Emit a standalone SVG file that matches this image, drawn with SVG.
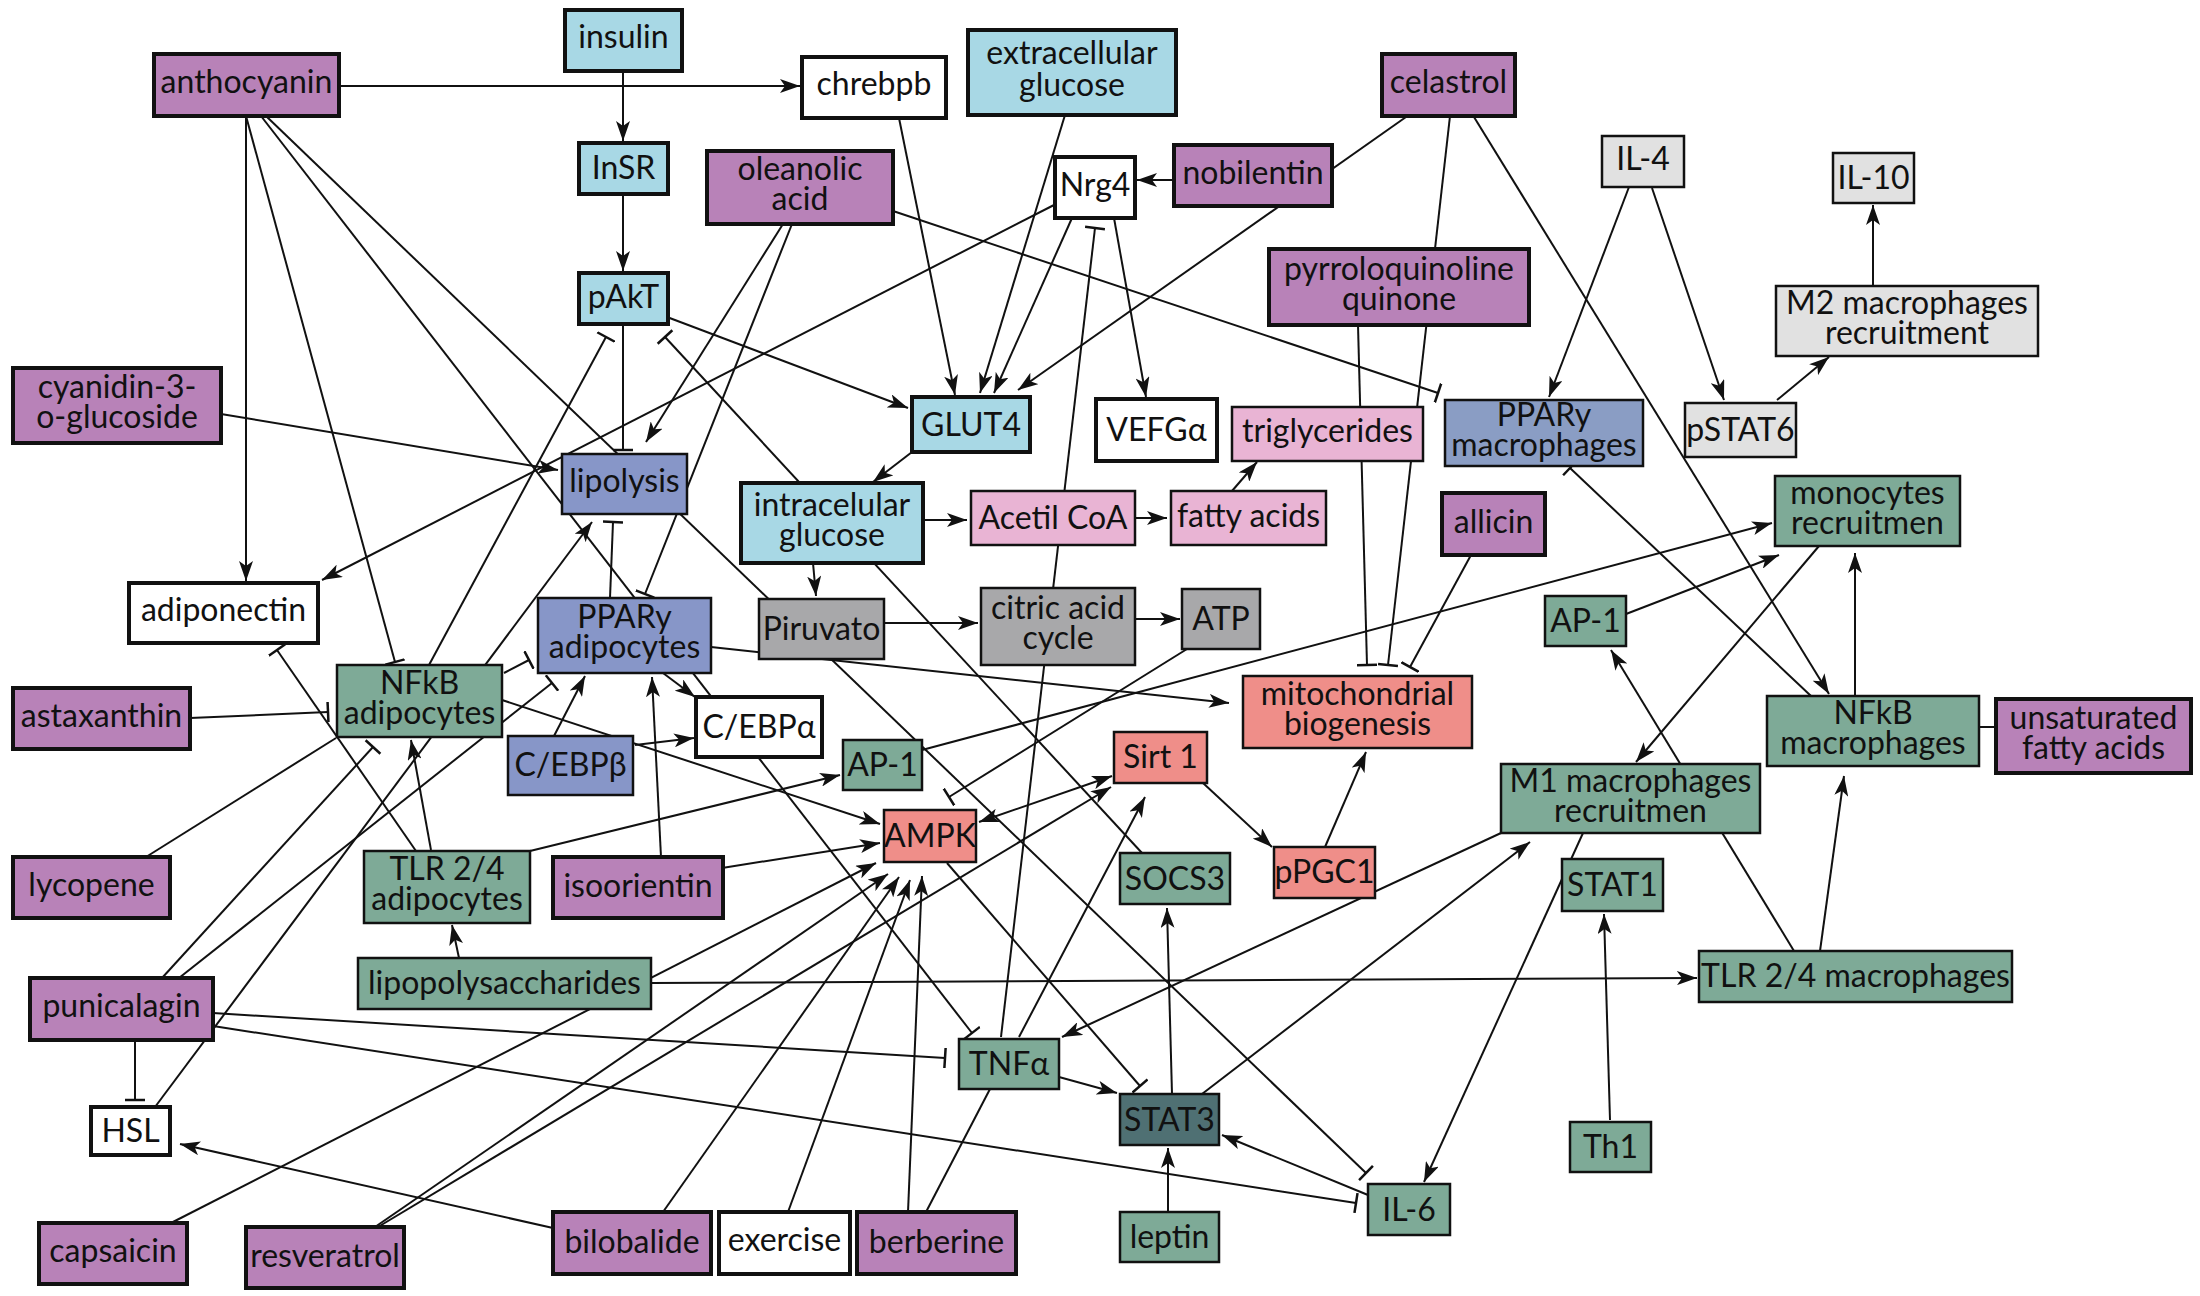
<svg xmlns="http://www.w3.org/2000/svg" width="2200" height="1296" viewBox="0 0 2200 1296">
<defs>
<style>
.e line{stroke:#111;stroke-width:2;fill:none}
.a{marker-end:url(#arr)}
.t{marker-end:url(#tee)}
.d{marker-start:url(#arr);marker-end:url(#arr)}
.pur,.blu,.wht,.sbl,.sbm,.pnk,.gry,.sal,.grn,.dgr,.lgr{stroke:#111}
.pur{fill:#b882b8;stroke-width:4}
.blu{fill:#a8d8e5;stroke-width:4}
.wht{fill:#fff;stroke-width:4}
.sbl{fill:#8796c8;stroke-width:2.5}
.sbm{fill:#8a9dc4;stroke-width:2.5}
.pnk{fill:#e9b4d4;stroke-width:2.5}
.gry{fill:#a8a8aa;stroke-width:2.5}
.sal{fill:#ef8e89;stroke-width:2.5}
.grn{fill:#7eaa97;stroke-width:2.5}
.dgr{fill:#4f7073;stroke-width:2.5}
.lgr{fill:#e1e1e1;stroke-width:2.5}
text{font-family:Lato,"Open Sans","Liberation Sans",sans-serif;font-size:32px;fill:#111;text-anchor:middle}
</style>
<marker id="arr" viewBox="0 0 20 14" refX="20" refY="7" markerWidth="20" markerHeight="14" orient="auto-start-reverse" markerUnits="userSpaceOnUse"><path d="M0,0 L20,7 L0,14 L5,7 z" fill="#111"/></marker>
<marker id="tee" viewBox="0 0 4 20" refX="2" refY="10" markerWidth="4" markerHeight="20" orient="auto" markerUnits="userSpaceOnUse"><path d="M2,0 V20" stroke="#111" stroke-width="2.5"/></marker>
</defs>
<g id="connectors" class="e">
<line class="a" x1="339" y1="86" x2="800" y2="86"/>
<line class="a" x1="623" y1="71" x2="623" y2="141"/>
<line class="a" x1="623" y1="194" x2="623" y2="271"/>
<line class="a" x1="246" y1="116" x2="246" y2="581"/>
<line class="t" x1="246" y1="116" x2="395" y2="662"/>
<line class="t" x1="261" y1="116" x2="972" y2="1033"/>
<line class="t" x1="266" y1="116" x2="1366" y2="1173"/>
<line class="a" x1="221" y1="414" x2="558" y2="470"/>
<line class="a" x1="899" y1="118" x2="955" y2="395"/>
<line class="a" x1="1065" y1="115" x2="980" y2="393"/>
<line class="a" x1="1072" y1="218" x2="994" y2="393"/>
<line class="a" x1="1406" y1="117" x2="1018" y2="390"/>
<line class="a" x1="1174" y1="180" x2="1137" y2="180"/>
<line class="a" x1="1114" y1="218" x2="1146" y2="397"/>
<line class="a" x1="1054" y1="205" x2="322" y2="580"/>
<line class="t" x1="1001" y1="1037" x2="1095" y2="228"/>
<line class="a" x1="783" y1="224" x2="646" y2="442"/>
<line class="t" x1="792" y1="224" x2="645" y2="594"/>
<line class="t" x1="893" y1="211" x2="1438" y2="393"/>
<line class="a" x1="667" y1="317" x2="908" y2="408"/>
<line class="t" x1="623" y1="324" x2="623" y2="450"/>
<line class="t" x1="429" y1="665" x2="606" y2="337"/>
<line class="t" x1="1142" y1="853" x2="665" y2="337"/>
<line class="t" x1="1450" y1="116" x2="1388" y2="665"/>
<line class="t" x1="1358" y1="325" x2="1367" y2="665"/>
<line class="t" x1="1471" y1="555" x2="1410" y2="667"/>
<line class="a" x1="1474" y1="117" x2="1829" y2="694"/>
<line class="a" x1="1629" y1="187" x2="1549" y2="397"/>
<line class="a" x1="1652" y1="188" x2="1724" y2="400"/>
<line class="a" x1="1777" y1="400" x2="1829" y2="357"/>
<line class="a" x1="1873" y1="286" x2="1873" y2="205"/>
<line class="a" x1="155" y1="1107" x2="592" y2="522"/>
<line class="t" x1="162" y1="978" x2="373" y2="747"/>
<line class="t" x1="179" y1="978" x2="552" y2="683"/>
<line x1="146" y1="857" x2="336" y2="738"/>
<line class="t" x1="190" y1="718" x2="328" y2="712"/>
<line class="a" x1="431" y1="850" x2="411" y2="740"/>
<line class="t" x1="416" y1="851" x2="277" y2="650"/>
<line class="t" x1="504" y1="673" x2="529" y2="660"/>
<line class="a" x1="502" y1="700" x2="880" y2="824"/>
<line class="a" x1="722" y1="868" x2="880" y2="843"/>
<line class="a" x1="661" y1="857" x2="652" y2="677"/>
<line class="a" x1="554" y1="736" x2="585" y2="676"/>
<line class="a" x1="635" y1="745" x2="694" y2="738"/>
<line class="a" x1="663" y1="673" x2="695" y2="697"/>
<line class="t" x1="610" y1="598" x2="613" y2="522"/>
<line class="a" x1="711" y1="647" x2="1229" y2="703"/>
<line class="a" x1="530" y1="851" x2="840" y2="775"/>
<line class="a" x1="912" y1="452" x2="873" y2="482"/>
<line class="a" x1="813" y1="563" x2="816" y2="596"/>
<line class="a" x1="923" y1="520" x2="967" y2="520"/>
<line class="a" x1="1135" y1="518" x2="1167" y2="518"/>
<line class="a" x1="1232" y1="491" x2="1257" y2="462"/>
<line class="a" x1="884" y1="623" x2="978" y2="623"/>
<line class="a" x1="1135" y1="619" x2="1180" y2="619"/>
<line class="t" x1="1187" y1="649" x2="949" y2="797"/>
<line class="d" x1="979" y1="822" x2="1112" y2="776"/>
<line class="a" x1="1203" y1="783" x2="1272" y2="847"/>
<line class="a" x1="1325" y1="847" x2="1366" y2="752"/>
<line class="t" x1="947" y1="863" x2="1140" y2="1086"/>
<line class="a" x1="1059" y1="1077" x2="1117" y2="1093"/>
<line class="a" x1="1019" y1="1037" x2="1145" y2="797"/>
<line class="a" x1="1368" y1="1195" x2="1222" y2="1135"/>
<line class="a" x1="1168" y1="1212" x2="1168" y2="1148"/>
<line class="a" x1="1172" y1="1094" x2="1167" y2="908"/>
<line class="a" x1="1202" y1="1094" x2="1530" y2="842"/>
<line class="a" x1="1501" y1="833" x2="1062" y2="1037"/>
<line class="a" x1="1583" y1="833" x2="1424" y2="1182"/>
<line class="a" x1="1610" y1="1120" x2="1604" y2="914"/>
<line class="a" x1="1820" y1="951" x2="1844" y2="776"/>
<line class="a" x1="1794" y1="951" x2="1611" y2="650"/>
<line class="a" x1="1855" y1="696" x2="1855" y2="553"/>
<line class="a" x1="1819" y1="546" x2="1636" y2="762"/>
<line class="a" x1="922" y1="750" x2="1772" y2="523"/>
<line class="a" x1="1626" y1="614" x2="1779" y2="555"/>
<line class="t" x1="1811" y1="696" x2="1570" y2="468"/>
<line x1="1979" y1="727" x2="1996" y2="727"/>
<line class="a" x1="459" y1="958" x2="452" y2="925"/>
<line class="a" x1="651" y1="983" x2="1697" y2="978"/>
<line class="a" x1="171" y1="1223" x2="876" y2="863"/>
<line class="a" x1="375" y1="1227" x2="888" y2="874"/>
<line class="a" x1="378" y1="1227" x2="1111" y2="787"/>
<line class="a" x1="663" y1="1212" x2="899" y2="877"/>
<line class="a" x1="788" y1="1212" x2="910" y2="880"/>
<line class="a" x1="908" y1="1212" x2="922" y2="876"/>
<line x1="926" y1="1212" x2="990" y2="1089"/>
<line class="a" x1="553" y1="1228" x2="180" y2="1144"/>
<line class="t" x1="135" y1="1040" x2="135" y2="1100"/>
<line class="t" x1="213" y1="1013" x2="945" y2="1058"/>
<line class="t" x1="213" y1="1026" x2="1356" y2="1203"/>
</g>
<g id="insulin"><rect class="blu" x="565" y="10" width="117" height="61"/><text x="623.5" y="48">insulin</text></g>
<g id="anthocyanin"><rect class="pur" x="154" y="54" width="185" height="62"/><text x="246.5" y="93">anthocyanin</text></g>
<g id="chrebpb"><rect class="wht" x="802" y="57" width="144" height="61"/><text x="874" y="95">chrebpb</text></g>
<g id="extracellular-glucose"><rect class="blu" x="968" y="30" width="208" height="85"/><text x="1072" y="64">extracellular<tspan x="1072" y="96">glucose</tspan></text></g>
<g id="InSR"><rect class="blu" x="579" y="143" width="89" height="51"/><text x="623.5" y="179">InSR</text></g>
<g id="oleanolic-acid"><rect class="pur" x="707" y="151" width="186" height="73"/><text x="800" y="180">oleanolic<tspan x="800" y="210">acid</tspan></text></g>
<g id="pAkT"><rect class="blu" x="579" y="273" width="89" height="51"/><text x="623.5" y="308">pAkT</text></g>
<g id="Nrg4"><rect class="wht" x="1055" y="157" width="80" height="61"/><text x="1095" y="196">Nrg4</text></g>
<g id="nobilentin"><rect class="pur" x="1174" y="145" width="158" height="61"/><text x="1253" y="184">nobilentin</text></g>
<g id="celastrol"><rect class="pur" x="1382" y="54" width="133" height="62"/><text x="1448.5" y="93">celastrol</text></g>
<g id="pyrroloquinoline-quinone"><rect class="pur" x="1269" y="249" width="260" height="76"/><text x="1399" y="280">pyrroloquinoline<tspan x="1399" y="310">quinone</tspan></text></g>
<g id="IL-4"><rect class="lgr" x="1602" y="136" width="82" height="51"/><text x="1643" y="170">IL-4</text></g>
<g id="IL-10"><rect class="lgr" x="1833" y="153" width="81" height="50"/><text x="1873.5" y="189">IL-10</text></g>
<g id="M2-macrophages"><rect class="lgr" x="1776" y="286" width="262" height="70"/><text x="1907" y="314">M2 macrophages<tspan x="1907" y="344">recruitment</tspan></text></g>
<g id="pSTAT6"><rect class="lgr" x="1685" y="403" width="111" height="54"/><text x="1740.5" y="441">pSTAT6</text></g>
<g id="cyanidin"><rect class="pur" x="13" y="368" width="208" height="75"/><text x="117" y="398">cyanidin-3-<tspan x="117" y="428">o-glucoside</tspan></text></g>
<g id="GLUT4"><rect class="blu" x="912" y="397" width="118" height="55"/><text x="971" y="436">GLUT4</text></g>
<g id="VEFGa"><rect class="wht" x="1096" y="399" width="121" height="62"/><text x="1156.5" y="441">VEFGα</text></g>
<g id="triglycerides"><rect class="pnk" x="1232" y="407" width="191" height="54"/><text x="1327.5" y="442">triglycerides</text></g>
<g id="PPARy-macrophages"><rect class="sbm" x="1445" y="400" width="198" height="66"/><text x="1544" y="426">PPARy<tspan x="1544" y="456">macrophages</tspan></text></g>
<g id="lipolysis"><rect class="sbl" x="562" y="454" width="125" height="60"/><text x="624.5" y="492">lipolysis</text></g>
<g id="intracelular-glucose"><rect class="blu" x="741" y="483" width="182" height="80"/><text x="832" y="516">intracelular<tspan x="832" y="546">glucose</tspan></text></g>
<g id="Acetil-CoA"><rect class="pnk" x="971" y="491" width="164" height="54"/><text x="1053" y="529">Acetil CoA</text></g>
<g id="fatty-acids"><rect class="pnk" x="1171" y="491" width="155" height="54"/><text x="1248.5" y="527">fatty acids</text></g>
<g id="allicin"><rect class="pur" x="1442" y="493" width="103" height="62"/><text x="1493.5" y="533">allicin</text></g>
<g id="monocytes"><rect class="grn" x="1775" y="476" width="185" height="70"/><text x="1867.5" y="504">monocytes<tspan x="1867.5" y="534">recruitmen</tspan></text></g>
<g id="AP-1-right"><rect class="grn" x="1545" y="596" width="81" height="50"/><text x="1585.5" y="632">AP-1</text></g>
<g id="NFkB-macrophages"><rect class="grn" x="1767" y="696" width="212" height="70"/><text x="1873" y="724">NFkB<tspan x="1873" y="754">macrophages</tspan></text></g>
<g id="unsaturated-fatty-acids"><rect class="pur" x="1996" y="699" width="195" height="74"/><text x="2093.5" y="729">unsaturated<tspan x="2093.5" y="759">fatty acids</tspan></text></g>
<g id="adiponectin"><rect class="wht" x="129" y="583" width="189" height="60"/><text x="223.5" y="621">adiponectin</text></g>
<g id="astaxanthin"><rect class="pur" x="13" y="688" width="177" height="61"/><text x="101.5" y="727">astaxanthin</text></g>
<g id="NFkB-adipocytes"><rect class="grn" x="337" y="665" width="165" height="72"/><text x="419.5" y="694">NFkB<tspan x="419.5" y="724">adipocytes</tspan></text></g>
<g id="PPARy-adipocytes"><rect class="sbl" x="538" y="598" width="173" height="75"/><text x="624.5" y="628">PPARy<tspan x="624.5" y="658">adipocytes</tspan></text></g>
<g id="CEBPb"><rect class="sbl" x="508" y="736" width="125" height="59"/><text x="570.5" y="776">C/EBPβ</text></g>
<g id="Piruvato"><rect class="gry" x="759" y="599" width="125" height="60"/><text x="821.5" y="640">Piruvato</text></g>
<g id="citric-acid-cycle"><rect class="gry" x="981" y="588" width="154" height="77"/><text x="1058" y="619">citric acid<tspan x="1058" y="649">cycle</tspan></text></g>
<g id="ATP"><rect class="gry" x="1182" y="589" width="78" height="60"/><text x="1221" y="630">ATP</text></g>
<g id="CEBPa"><rect class="wht" x="696" y="697" width="126" height="60"/><text x="759" y="738">C/EBPα</text></g>
<g id="AP-1-mid"><rect class="grn" x="843" y="740" width="79" height="50"/><text x="882.5" y="776">AP-1</text></g>
<g id="mitochondrial-biogenesis"><rect class="sal" x="1243" y="676" width="229" height="72"/><text x="1357.5" y="705">mitochondrial<tspan x="1357.5" y="735">biogenesis</tspan></text></g>
<g id="Sirt1"><rect class="sal" x="1114" y="732" width="93" height="51"/><text x="1160.5" y="768">Sirt 1</text></g>
<g id="AMPK"><rect class="sal" x="884" y="810" width="92" height="52"/><text x="930" y="847">AMPK</text></g>
<g id="M1-macrophages"><rect class="grn" x="1501" y="764" width="259" height="69"/><text x="1630.5" y="792">M1 macrophages<tspan x="1630.5" y="822">recruitmen</tspan></text></g>
<g id="lycopene"><rect class="pur" x="13" y="857" width="157" height="61"/><text x="91.5" y="896">lycopene</text></g>
<g id="TLR-adipocytes"><rect class="grn" x="364" y="851" width="166" height="72"/><text x="447" y="880">TLR 2/4<tspan x="447" y="910">adipocytes</tspan></text></g>
<g id="isoorientin"><rect class="pur" x="553" y="857" width="170" height="61"/><text x="638" y="897">isoorientin</text></g>
<g id="SOCS3"><rect class="grn" x="1120" y="853" width="110" height="51"/><text x="1175" y="890">SOCS3</text></g>
<g id="pPGC1"><rect class="sal" x="1274" y="847" width="101" height="51"/><text x="1324.5" y="883">pPGC1</text></g>
<g id="STAT1"><rect class="grn" x="1562" y="859" width="101" height="52"/><text x="1612.5" y="896">STAT1</text></g>
<g id="lipopolysaccharides"><rect class="grn" x="358" y="958" width="293" height="51"/><text x="504.5" y="994">lipopolysaccharides</text></g>
<g id="TLR-macrophages"><rect class="grn" x="1699" y="951" width="313" height="51"/><text x="1855.5" y="987">TLR 2/4 macrophages</text></g>
<g id="punicalagin"><rect class="pur" x="30" y="978" width="183" height="62"/><text x="121.5" y="1017">punicalagin</text></g>
<g id="TNFa"><rect class="grn" x="959" y="1039" width="100" height="50"/><text x="1009" y="1075">TNFα</text></g>
<g id="STAT3"><rect class="dgr" x="1120" y="1094" width="99" height="51"/><text x="1169.5" y="1131">STAT3</text></g>
<g id="HSL"><rect class="wht" x="91" y="1107" width="79" height="48"/><text x="130.5" y="1142">HSL</text></g>
<g id="Th1"><rect class="grn" x="1570" y="1122" width="81" height="50"/><text x="1610.5" y="1158">Th1</text></g>
<g id="IL-6"><rect class="grn" x="1368" y="1184" width="82" height="51"/><text x="1409" y="1221">IL-6</text></g>
<g id="capsaicin"><rect class="pur" x="39" y="1223" width="148" height="61"/><text x="113" y="1262">capsaicin</text></g>
<g id="resveratrol"><rect class="pur" x="246" y="1227" width="158" height="61"/><text x="325" y="1267">resveratrol</text></g>
<g id="bilobalide"><rect class="pur" x="553" y="1212" width="158" height="62"/><text x="632" y="1253">bilobalide</text></g>
<g id="exercise"><rect class="wht" x="719" y="1212" width="131" height="62"/><text x="784.5" y="1251">exercise</text></g>
<g id="berberine"><rect class="pur" x="857" y="1212" width="159" height="62"/><text x="936.5" y="1253">berberine</text></g>
<g id="leptin"><rect class="grn" x="1120" y="1212" width="99" height="50"/><text x="1169.5" y="1248">leptin</text></g>
</svg>
